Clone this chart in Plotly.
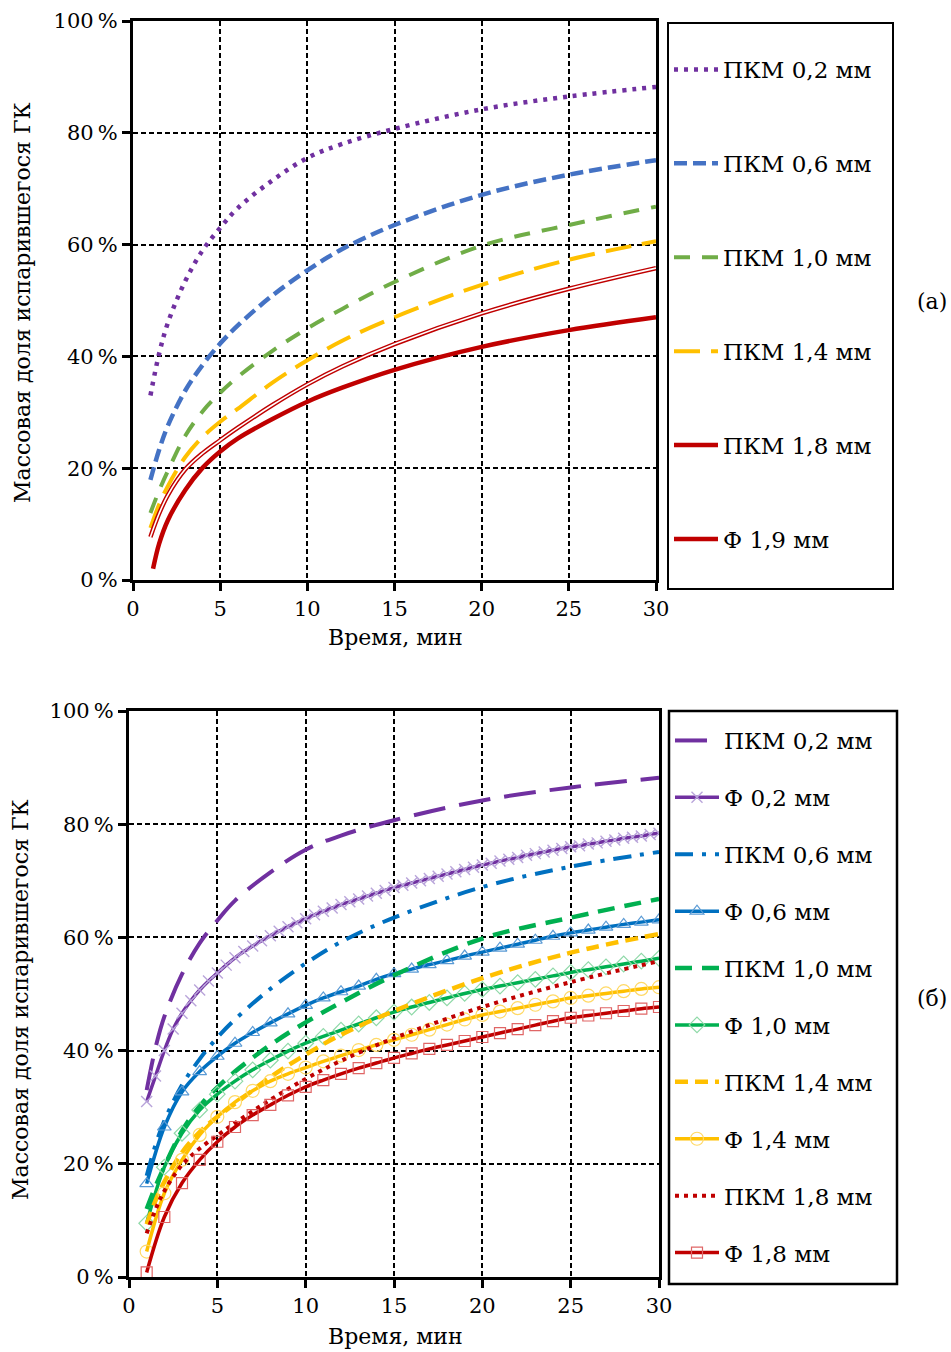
import plotly.graph_objects as go

W, H = 951, 1352
FONT = "DejaVu Serif"

# ---- data: evaporated mass fraction of GK, % vs time, min ----
# ПКМ model curves (shared by both panels)
t_pkm = [1, 1.5, 2, 3, 4, 5, 6, 8, 10, 12, 15, 20, 25, 30]
pkm_02 = [33.0, 40.5, 46.0, 53.5, 59.0, 63.0, 66.5, 71.5, 75.5, 78.0, 80.7, 84.2, 86.5, 88.2]
pkm_06 = [17.9, 23.3, 27.6, 33.9, 38.5, 42.3, 45.5, 50.9, 55.4, 59.2, 63.5, 68.9, 72.5, 75.1]
pkm_10 = [12.0, 16.0, 19.5, 25.8, 30.2, 33.5, 36.3, 41.0, 45.0, 48.5, 53.3, 59.8, 63.5, 66.8]
pkm_14 = [9.3, 13.5, 16.8, 22.0, 25.6, 28.3, 30.6, 35.3, 39.3, 42.8, 47.0, 52.8, 57.3, 60.6]
pkm_18 = [7.7, 11.9, 15.2, 19.8, 22.7, 25.0, 27.2, 31.3, 35.0, 38.2, 42.2, 47.7, 52.1, 55.8]

# Ф 1,9 mm (panel a)
t_f19 = [1.15, 1.5, 2, 3, 4, 5, 6, 8, 10, 12, 15, 20, 25, 30]
f_19 = [2.0, 6.5, 10.7, 16.1, 20.1, 23.0, 25.3, 28.8, 31.9, 34.4, 37.6, 41.7, 44.7, 47.0]

# Ф curves (panel б), sampled every minute
t_min = list(range(1, 31))
f_06 = [16.5, 26.5, 32.7, 36.3, 39.0, 41.3, 43.2, 44.9, 46.5, 48.0,
        49.3, 50.4, 51.4, 52.6, 53.6, 54.4, 55.2, 55.9, 56.7, 57.4,
        58.1, 58.8, 59.5, 60.2, 60.8, 61.3, 61.8, 62.3, 62.7, 63.1]
f_10 = [9.5, 19.4, 25.4, 29.5, 32.3, 34.6, 36.6, 38.3, 39.9, 41.3,
        42.5, 43.6, 44.7, 45.8, 46.8, 47.7, 48.5, 49.3, 50.1, 50.8,
        51.4, 52.0, 52.6, 53.2, 53.8, 54.3, 54.8, 55.3, 55.8, 56.3]
f_14 = [4.5, 14.8, 20.7, 25.1, 28.3, 30.9, 32.9, 34.6, 35.9, 37.0,
        38.1, 39.1, 40.1, 41.0, 41.9, 42.8, 43.7, 44.6, 45.5, 46.3,
        46.9, 47.5, 48.1, 48.7, 49.3, 49.7, 50.1, 50.5, 50.9, 51.2]
f_18 = [0.8, 10.6, 16.6, 20.7, 23.9, 26.5, 28.6, 30.4, 32.1, 33.6,
        34.8, 35.9, 36.9, 37.8, 38.7, 39.5, 40.3, 41.0, 41.7, 42.4,
        43.1, 43.8, 44.5, 45.2, 45.8, 46.2, 46.6, 47.0, 47.4, 47.7]

# Ф 0,2 mm (panel б), sampled every half minute
t_half = [1, 1.5, 2, 2.5, 3, 3.5, 4, 4.5, 5, 5.5, 6, 6.5, 7, 7.5, 8, 8.5, 9, 9.5, 10, 10.5,
          11, 11.5, 12, 12.5, 13, 13.5, 14, 14.5, 15, 15.5, 16, 16.5, 17, 17.5, 18, 18.5,
          19, 19.5, 20, 20.5, 21, 21.5, 22, 22.5, 23, 23.5, 24, 24.5, 25, 25.5, 26, 26.5,
          27, 27.5, 28, 28.5, 29, 29.5, 30]
f_02 = [31.0, 35.5, 40.0, 43.8, 46.6, 48.8, 50.7, 52.3, 53.7, 55.1, 56.4, 57.5, 58.5, 59.4,
        60.3, 61.1, 61.9, 62.6, 63.3, 64.0, 64.6, 65.2, 65.8, 66.3, 66.8, 67.3, 67.8, 68.3,
        68.8, 69.2, 69.6, 70.0, 70.4, 70.8, 71.2, 71.6, 72.0, 72.4, 72.8, 73.1, 73.5, 73.8,
        74.1, 74.5, 74.8, 75.1, 75.4, 75.7, 76.0, 76.2, 76.5, 76.7, 77.0, 77.2, 77.5, 77.7,
        77.9, 78.2, 78.4]

x_ticks = [0, 5, 10, 15, 20, 25, 30]
y_ticks = [0, 20, 40, 60, 80, 100]
y_ticktext = ["0\u2009%", "20\u2009%", "40\u2009%", "60\u2009%", "80\u2009%", "100\u2009%"]
x_title = "Время, мин"
y_title = "Массовая доля испарившегося ГК"

PURPLE = "#7030A0"
RED = "#C00000"
YELLOW = "#FFC000"

fig = go.Figure()


def line(x, y, name, color, width, dash="solid", ax="", legend="legend",
         showlegend=True, group=None, marker=None):
    kw = dict(x=x, y=y, name=name, legend=legend, showlegend=showlegend,
              legendgroup=group or name + ax,
              line=dict(color=color, width=width, dash=dash, shape="spline"),
              mode="lines", xaxis="x" + ax, yaxis="y" + ax, hoverinfo="skip")
    if marker:
        kw["mode"] = "lines+markers"
        kw["marker"] = marker
    fig.add_trace(go.Scatter(**kw))


# ---- panel (a) ----
line(t_pkm, pkm_02, "ПКМ 0,2 мм", PURPLE, 4.5, "4px,6px")
line(t_pkm, pkm_06, "ПКМ 0,6 мм", "#4472C4", 4.5, "13px,6px")
line(t_pkm, pkm_10, "ПКМ 1,0 мм", "#70AD47", 4, "16px,12px")
line(t_pkm, pkm_14, "ПКМ 1,4 мм", YELLOW, 4, "26px,11px")
line(t_pkm, pkm_18, "ПКМ 1,8 мм", RED, 4.5)
line(t_pkm, pkm_18, "ПКМ 1,8 мм", "white", 1.6, showlegend=False, group="ПКМ 1,8 мм")
line(t_f19, f_19, "Ф 1,9 мм", RED, 4.5)

# ---- panel (б) ----
L2 = dict(ax="2", legend="legend2")
line(t_pkm, pkm_02, "ПКМ 0,2 мм", PURPLE, 4, "32px,14px", **L2)
line(t_half, f_02, "Ф 0,2 мм", PURPLE, 3.5, **L2,
     marker=dict(symbol="x-thin", size=11, color="#B9A5DA",
                 line=dict(width=1.4, color="#B9A5DA")))
line(t_pkm, pkm_06, "ПКМ 0,6 мм", "#0070C0", 4, "18px,9px,4px,9px", **L2)
line(t_min, f_06, "Ф 0,6 мм", "#0070C0", 3.5, **L2,
     marker=dict(symbol="triangle-up-open", size=12, color="#5B9BD5",
                 line=dict(width=1.2)))
line(t_pkm, pkm_10, "ПКМ 1,0 мм", "#00B050", 4.5, "17px,10px", **L2)
line(t_min, f_10, "Ф 1,0 мм", "#00B050", 3.5, **L2,
     marker=dict(symbol="diamond-open", size=12, color="#8FD9A8",
                 line=dict(width=1.2)))
line(t_pkm, pkm_14, "ПКМ 1,4 мм", YELLOW, 4.5, "13px,7px", **L2)
line(t_min, f_14, "Ф 1,4 мм", YELLOW, 3.5, **L2,
     marker=dict(symbol="circle-open", size=13, color="#FFD966",
                 line=dict(width=1.2)))
line(t_pkm, pkm_18, "ПКМ 1,8 мм", RED, 4, "4px,5px", **L2)
line(t_min, f_18, "Ф 1,8 мм", RED, 3.5, **L2,
     marker=dict(symbol="square-open", size=11, color="#E06666",
                 line=dict(width=1.2)))


def px_x(p):
    return p / W


def px_y(p):
    return 1 - p / H


tickfont = dict(family=FONT, size=21, color="black")


def xaxis(domain, anchor):
    return dict(domain=domain, anchor=anchor, range=[0, 30], tickvals=x_ticks,
                ticks="outside", ticklen=8, tickwidth=2.5, tickcolor="black",
                showline=True, linewidth=3, linecolor="black", mirror=True,
                showgrid=True, gridcolor="black", gridwidth=1.5, griddash="5px,3px",
                zeroline=False, tickfont=tickfont, automargin=False)


def yaxis(domain, anchor):
    return dict(domain=domain, anchor=anchor, range=[0, 100], tickvals=y_ticks,
                ticktext=y_ticktext, ticks="outside", ticklen=8, tickwidth=2.5,
                tickcolor="black", showline=True, linewidth=3, linecolor="black",
                mirror=True, showgrid=True, gridcolor="black", gridwidth=1.5,
                griddash="5px,3px", zeroline=False, tickfont=tickfont,
                automargin=False)


legend_common = dict(xanchor="left", yanchor="top", bgcolor="rgba(0,0,0,0)",
                     borderwidth=0, traceorder="grouped", itemwidth=44,
                     font=dict(family=FONT, size=23, color="black"))


def text(s, x, y, angle=0, size=22):
    return dict(text=s, x=px_x(x), y=px_y(y), xref="paper", yref="paper",
                xanchor="center", yanchor="middle",
                showarrow=False, textangle=angle,
                font=dict(family=FONT, size=size, color="black"))


fig.update_layout(
    width=W, height=H, margin=dict(l=0, r=0, t=0, b=0, autoexpand=False),
    paper_bgcolor="white", plot_bgcolor="white",
    font=dict(family=FONT, color="black"),
    xaxis=xaxis([px_x(133), px_x(656)], "y"),
    yaxis=yaxis([px_y(580), px_y(21)], "x"),
    xaxis2=xaxis([px_x(129), px_x(659)], "y2"),
    yaxis2=yaxis([px_y(1277), px_y(711)], "x2"),
    legend=dict(x=px_x(669), y=px_y(48), tracegroupgap=61, **legend_common),
    legend2=dict(x=px_x(670), y=px_y(719), tracegroupgap=24, **legend_common),
    shapes=[
        dict(type="rect", xref="paper", yref="paper", x0=px_x(668), x1=px_x(893),
             y0=px_y(589), y1=px_y(23), line=dict(color="black", width=2)),
        dict(type="rect", xref="paper", yref="paper", x0=px_x(669), x1=px_x(897),
             y0=px_y(1284), y1=px_y(711), line=dict(color="black", width=2.5)),
    ],
    annotations=[
        text(x_title, 395, 637),
        text(y_title, 22, 303, angle=-90),
        text(x_title, 395, 1336),
        text(y_title, 20, 1000, angle=-90),
        text("(a)", 932, 302),
        text("(б)", 932, 998),
    ],
)

fig.write_html("out.html")
